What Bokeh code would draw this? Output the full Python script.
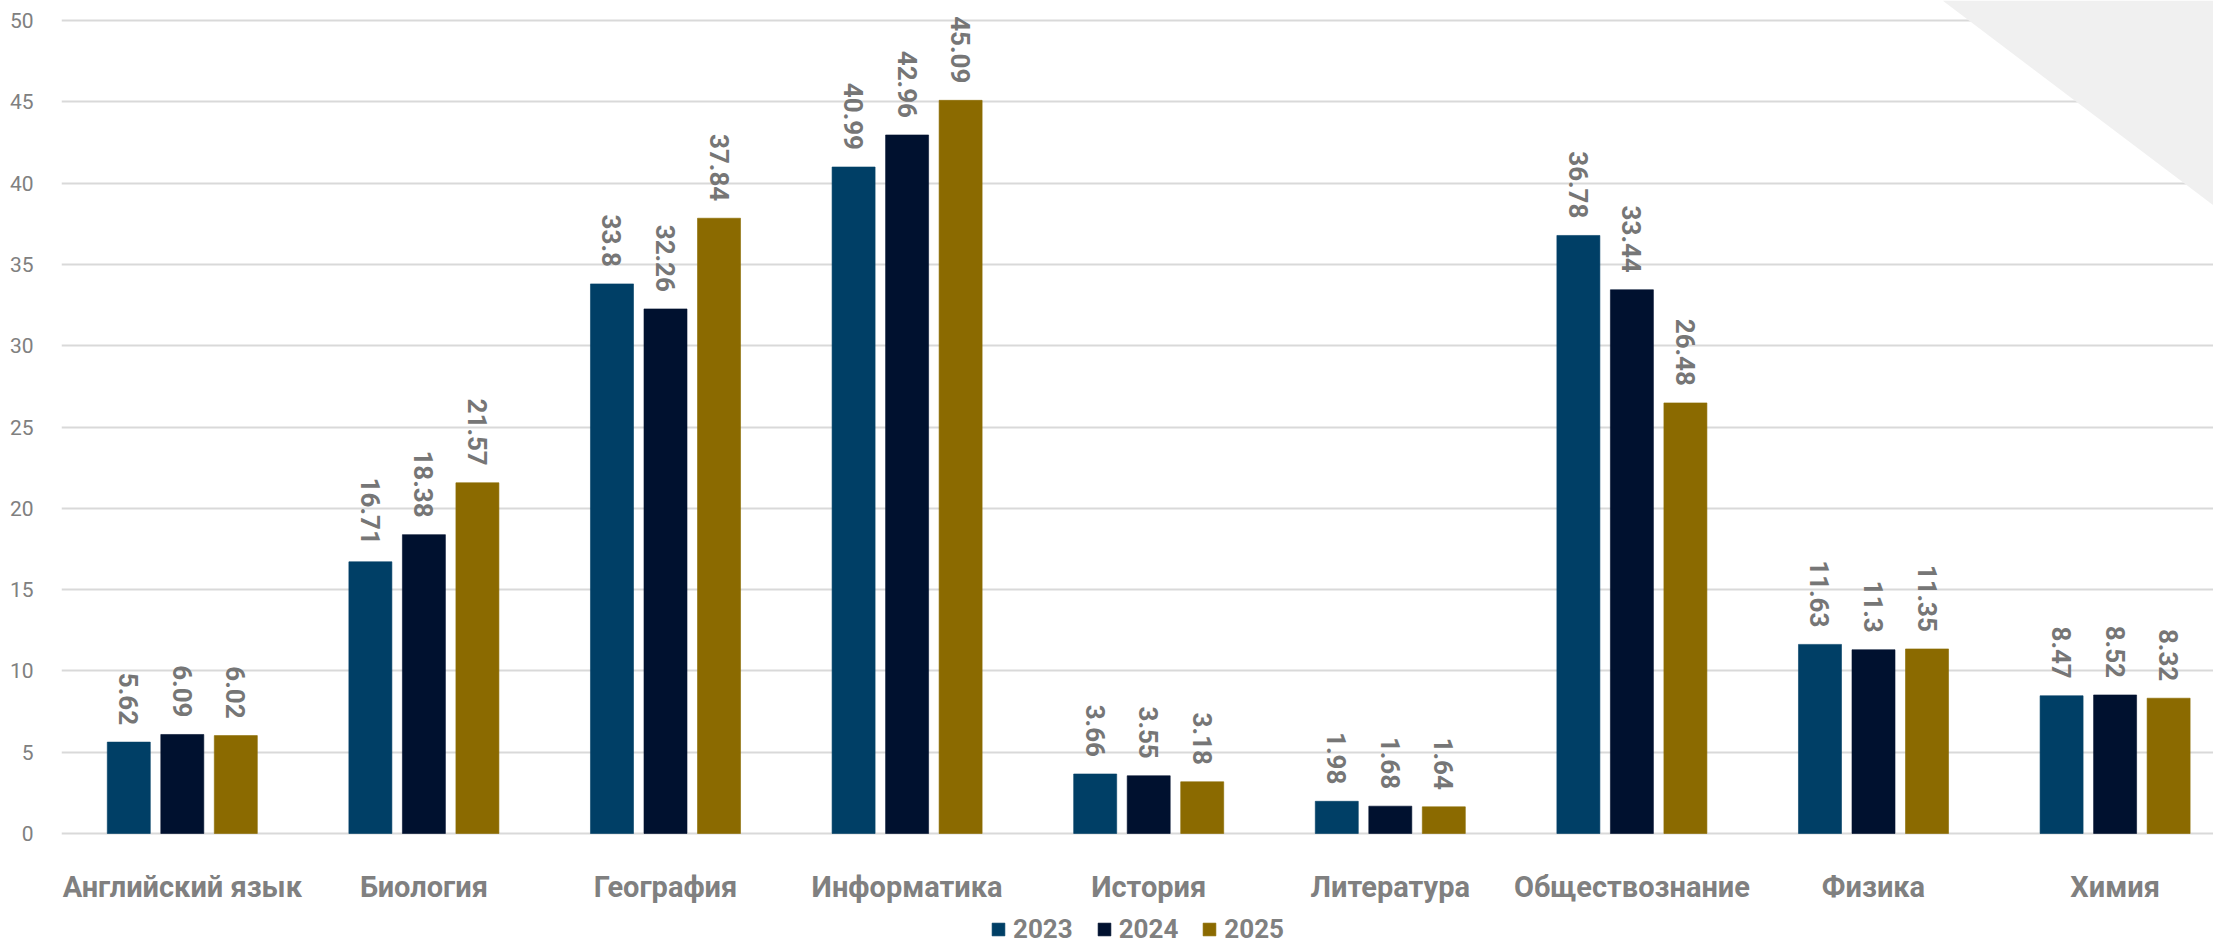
from bokeh.plotting import figure
from bokeh.models import (ColumnDataSource, Range1d, FixedTicker,
                          Legend, LegendItem, PolyAnnotation)
from bokeh.transform import dodge
from bokeh.core.properties import value
from bokeh.embed import file_html
from bokeh.resources import INLINE

categories = ["Английский язык", "Биология", "География", "Информатика", "История",
              "Литература", "Обществознание", "Физика", "Химия"]
years = ["2023", "2024", "2025"]
v2023 = [5.62, 16.71, 33.8, 40.99, 3.66, 1.98, 36.78, 11.63, 8.47]
v2024 = [6.09, 18.38, 32.26, 42.96, 3.55, 1.68, 33.44, 11.3, 8.52]
v2025 = [6.02, 21.57, 37.84, 45.09, 3.18, 1.64, 26.48, 11.35, 8.32]
colors = ["#003f66", "#00112f", "#8b6a00"]
y_ticks = [0, 5, 10, 15, 20, 25, 30, 35, 40, 45, 50]

FONT = "Roboto"
GRAY = "#808080"

pos = [i + 0.5 for i in range(len(categories))]
src = ColumnDataSource(dict(
    x=pos, zero=[0] * len(categories), cat=categories,
    v2023=v2023, v2024=v2024, v2025=v2025,
    l2023=[f"{v:g}" for v in v2023],
    l2024=[f"{v:g}" for v in v2024],
    l2025=[f"{v:g}" for v in v2025],
))

W, H = 2213, 944
FRAME_LEFT = 61
PX_PER_UNIT = 16.26
TOP_SPACE = 20       # pixels above the 50 gridline
BOTTOM_SPACE = 111   # pixels below the zero line (category labels + legend)
CAT_PX = 241.6       # pixels per category
p = figure(width=W, height=H, output_backend="svg", toolbar_location=None,
           x_range=Range1d(0, (W - FRAME_LEFT) / CAT_PX),
           y_range=Range1d(-BOTTOM_SPACE / PX_PER_UNIT, 50 + TOP_SPACE / PX_PER_UNIT),
           min_border_left=FRAME_LEFT, min_border_top=0, min_border_right=0,
           min_border_bottom=0)
p.outline_line_color = None
p.background_fill_color = "white"

# background decoration (top-right light triangle), frame-relative screen units (y up)
tri = PolyAnnotation(xs=[1942 - FRAME_LEFT, W - FRAME_LEFT, W - FRAME_LEFT],
                     ys=[H, H, H - 205], xs_units="screen", ys_units="screen",
                     fill_color="#f0f0f0", fill_alpha=1.0, line_color=None, level="underlay")
p.add_layout(tri)

offsets = [-0.2215, 0.0, 0.2215]
renderers = []
for yr, off, col in zip(years, offsets, colors):
    r = p.vbar(x=dodge("x", off, range=p.x_range), top="v" + yr, bottom=0, width=0.178,
               source=src, fill_color=col, line_color=col, line_alpha=0.6, line_width=1)
    renderers.append(r)
    p.text(x=dodge("x", off, range=p.x_range), y="v" + yr, text="l" + yr, source=src,
           angle=-1.5707963, text_align="right", text_baseline="middle", y_offset=-17,
           text_font=value(FONT), text_font_style="bold", text_font_size="26px",
           text_color="#767676")

# category labels under the zero line
p.text(x="x", y="zero", text="cat", source=src, text_align="center",
       text_baseline="alphabetic", y_offset=53,
       text_font=value(FONT), text_font_style="bold", text_font_size="29px",
       text_color=GRAY)

p.xaxis.visible = False

p.yaxis.ticker = FixedTicker(ticks=y_ticks)
p.yaxis.major_label_text_font = FONT
p.yaxis.major_label_text_font_size = "21px"
p.yaxis.major_label_text_color = GRAY
p.yaxis.major_label_standoff = 22
p.yaxis.major_tick_line_color = None
p.yaxis.minor_tick_line_color = None
p.yaxis.axis_line_color = None

p.xgrid.grid_line_color = None
p.ygrid.ticker = FixedTicker(ticks=y_ticks)
p.ygrid.grid_line_color = "#d9d9d9"
p.ygrid.grid_line_width = 2

legend = Legend(items=[LegendItem(label=yr, renderers=[r]) for yr, r in zip(years, renderers)],
                orientation="horizontal", location="bottom_center",
                label_text_font=FONT, label_text_font_style="bold", label_text_font_size="26px",
                label_text_color=GRAY, glyph_width=16, glyph_height=16, spacing=23,
                label_standoff=7, padding=0, margin=0, border_line_color=None,
                background_fill_alpha=0)
p.add_layout(legend)

open("out.html", "w").write(file_html(p, INLINE))
